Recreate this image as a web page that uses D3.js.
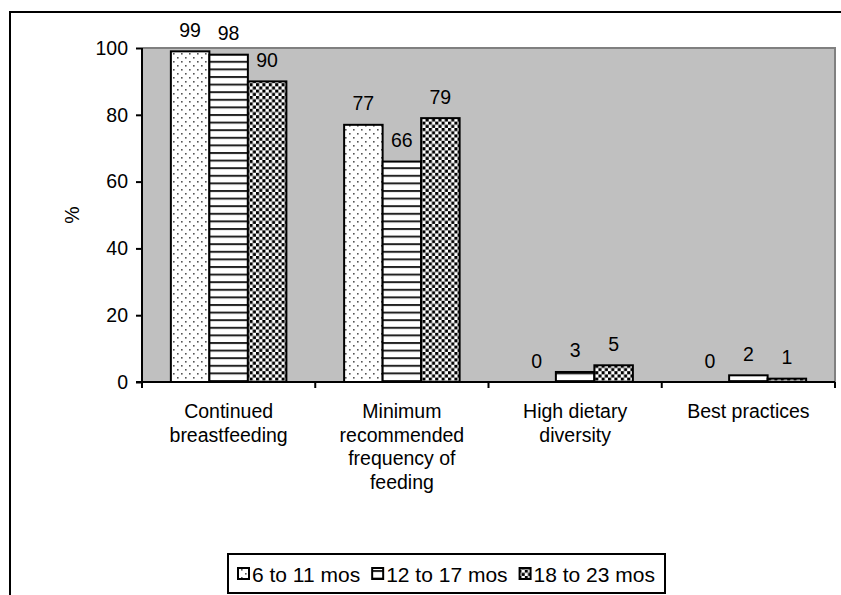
<!DOCTYPE html>
<html><head><meta charset="utf-8">
<script src="https://cdn.jsdelivr.net/npm/d3@7"></script>
<style>body{margin:0;background:#fff}svg{display:block}text{font-family:"Liberation Sans",Arial,sans-serif;fill:#000}</style>
</head><body>
<svg id="c" width="841" height="595"></svg>
<script>
const categories = [["Continued","breastfeeding"],["Minimum","recommended","frequency of","feeding"],["High dietary","diversity"],["Best practices"]];
const seriesNames = ["6 to 11 mos","12 to 17 mos","18 to 23 mos"];
const s6to11 = [99,77,0,0];
const s12to17 = [98,66,3,2];
const s18to23 = [90,79,5,1];
const yTicks = [0,20,40,60,80,100];
const seriesValues = [s6to11,s12to17,s18to23];

const svg = d3.select("#c");
const defs = svg.append("defs");
// pattern: dots
const p1 = defs.append("pattern").attr("id","pat0").attr("patternUnits","userSpaceOnUse").attr("width",8).attr("height",8);
p1.append("rect").attr("width",8).attr("height",8).attr("fill","#fff");
p1.append("rect").attr("x",1).attr("y",1).attr("width",1.6).attr("height",1.6).attr("fill","#555");
p1.append("rect").attr("x",5).attr("y",5).attr("width",1.6).attr("height",1.6).attr("fill","#555");
// horizontal lines
const p2 = defs.append("pattern").attr("id","pat1").attr("patternUnits","userSpaceOnUse").attr("width",8).attr("height",7.6);
p2.append("rect").attr("width",8).attr("height",7.6).attr("fill","#fff");
p2.append("rect").attr("y",0).attr("width",8).attr("height",2).attr("fill","#222");
// dense checker dots
const p3 = defs.append("pattern").attr("id","pat2").attr("patternUnits","userSpaceOnUse").attr("width",6.4).attr("height",6.4);
p3.append("rect").attr("width",6.4).attr("height",6.4).attr("fill","#fff");
p3.append("rect").attr("x",0).attr("y",0).attr("width",3.1).attr("height",3.1).attr("fill","#000");
p3.append("rect").attr("x",3.2).attr("y",3.2).attr("width",3.1).attr("height",3.1).attr("fill","#000");

const L=142, R=835, T=48, B=382;
const x = d3.scaleBand().domain(d3.range(categories.length)).range([L,R]).paddingInner(0).paddingOuter(0);
const xs = d3.scaleBand().domain(d3.range(seriesNames.length)).range([0,x.bandwidth()]).paddingOuter(0.75).paddingInner(0);
const y = d3.scaleLinear().domain([0,100]).range([B,T]);

// outer frame
svg.append("path").attr("d","M10,595 L10,12 L841,12").attr("fill","none").attr("stroke","#000").attr("stroke-width",2);

// plot area
svg.append("rect").attr("x",L).attr("y",T).attr("width",R-L).attr("height",B-T).attr("fill","#c0c0c0");
svg.append("path").attr("d",`M${L},${T} L${R},${T} L${R},${B}`).attr("fill","none").attr("stroke","#808080").attr("stroke-width",2);

// bars
seriesValues.forEach((vals,si)=>{
  svg.append("g").selectAll("rect").data(vals).join("rect")
    .attr("x",(d,i)=>x(i)+xs(si))
    .attr("y",d=>y(d))
    .attr("width",xs.bandwidth())
    .attr("height",d=>B-y(d))
    .attr("fill",`url(#pat${si})`)
    .attr("stroke","#000").attr("stroke-width",2);
  svg.append("g").selectAll("text").data(vals).join("text")
    .attr("x",(d,i)=>x(i)+xs(si)+xs.bandwidth()/2)
    .attr("y",d=>y(d)-14.5)
    .attr("text-anchor","middle").attr("font-size","19.5px")
    .text(d=>d);
});

// y axis
const yAxis = svg.append("g").attr("transform",`translate(${L},0)`)
  .call(d3.axisLeft(y).tickValues(yTicks).tickSize(6).tickPadding(8));
yAxis.select(".domain").attr("stroke","#000").attr("stroke-width",2).attr("d",`M0,${T}V${B}`);
yAxis.selectAll(".tick line").attr("stroke","#000").attr("stroke-width",2);
yAxis.selectAll(".tick text").attr("font-size","19.5px").attr("font-family","Liberation Sans, Arial, sans-serif").attr("fill","#000");

// x axis
const xAxisG = svg.append("g").attr("transform",`translate(0,${B})`);
xAxisG.append("line").attr("x1",L-6).attr("x2",R).attr("y1",0).attr("y2",0).attr("stroke","#000").attr("stroke-width",2);
xAxisG.selectAll("line.tk").data(d3.range(categories.length+1)).join("line").attr("class","tk")
  .attr("x1",i=>L+i*x.bandwidth()).attr("x2",i=>L+i*x.bandwidth())
  .attr("y1",0).attr("y2",6).attr("stroke","#000").attr("stroke-width",2);
categories.forEach((lines,i)=>{
  const t = svg.append("text").attr("text-anchor","middle").attr("font-size","19.5px");
  lines.forEach((ln,j)=>{
    t.append("tspan").attr("x",x(i)+x.bandwidth()/2).attr("y",418+j*23.5).text(ln);
  });
});

// y title
svg.append("text").attr("transform","translate(79,215) rotate(-90)").attr("text-anchor","middle").attr("font-size","19.5px").text("%");

// legend
const lg = svg.append("g");
const lgX = 228, lgY = 554, lgW = 437, lgH = 39;
lg.append("rect").attr("x",lgX).attr("y",lgY).attr("width",lgW).attr("height",lgH).attr("fill","#fff").attr("stroke","#000").attr("stroke-width",2);
let cx = lgX + 10;
seriesNames.forEach((n,si)=>{
  lg.append("rect").attr("x",cx).attr("y",lgY+14).attr("width",11).attr("height",11).attr("fill",`url(#pat${si})`).attr("stroke","#000").attr("stroke-width",2);
  const t = lg.append("text").attr("x",cx+14).attr("y",lgY+28).attr("font-size","21px").text(n);
  cx += 14 + t.node().getComputedTextLength() + 12;
});
</script>
</body></html>
